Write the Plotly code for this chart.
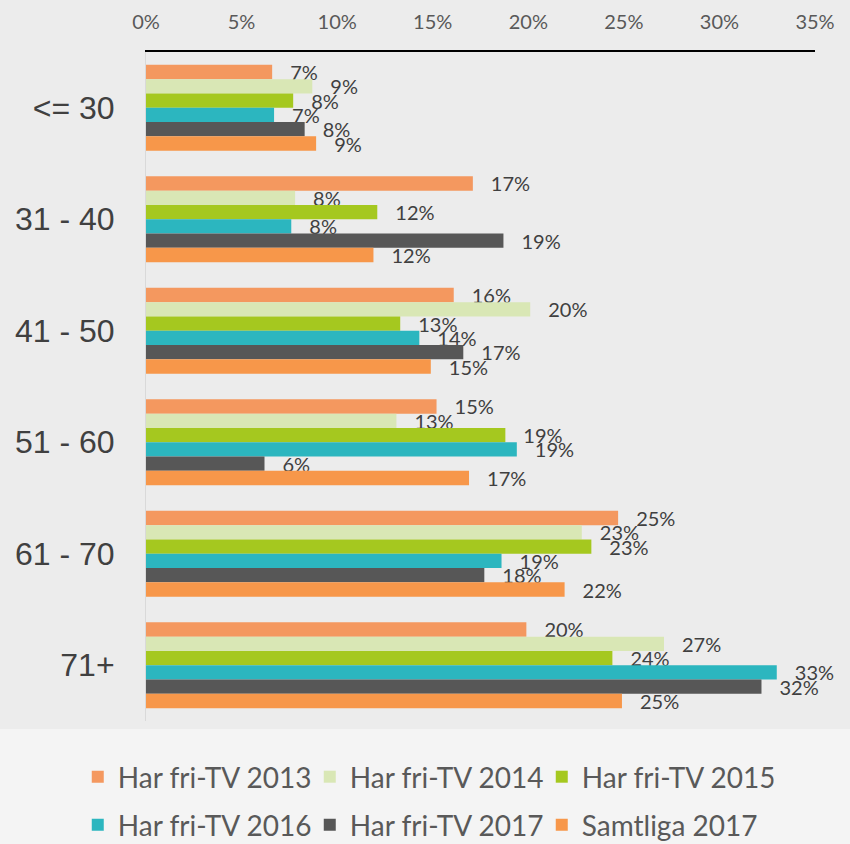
import plotly.graph_objects as go

categories = ["<= 30", "31 - 40", "41 - 50", "51 - 60", "61 - 70", "71+"]
series_names = ["Har fri-TV 2013", "Har fri-TV 2014", "Har fri-TV 2015",
                "Har fri-TV 2016", "Har fri-TV 2017", "Samtliga 2017"]
v2013 = [0.066, 0.171, 0.161, 0.152, 0.247, 0.199]
v2014 = [0.087, 0.078, 0.201, 0.131, 0.228, 0.271]
v2015 = [0.077, 0.121, 0.133, 0.188, 0.233, 0.244]
v2016 = [0.067, 0.076, 0.143, 0.194, 0.186, 0.330]
v2017 = [0.083, 0.187, 0.166, 0.062, 0.177, 0.322]
vsamt = [0.089, 0.119, 0.149, 0.169, 0.219, 0.249]
series_values = [v2013, v2014, v2015, v2016, v2017, vsamt]
colors = ["#F4985F", "#D9E7B5", "#A5C81F", "#2CB6BF", "#575757", "#F7974A"]
tick_vals = [0, 0.05, 0.10, 0.15, 0.20, 0.25, 0.30, 0.35]
tick_text = ["0%", "5%", "10%", "15%", "20%", "25%", "30%", "35%"]

FONT = "Lato"
fig = go.Figure()
for i, (name, vals, col) in enumerate(zip(series_names, series_values, colors)):
    fig.add_trace(go.Bar(
        y=categories, x=vals, name=name, orientation="h",
        marker=dict(color=col, line=dict(width=0)),
        texttemplate="\u2003%{x:.0%}", textposition="outside",
        constraintext="none", cliponaxis=False,
        textfont=dict(family=FONT, size=20, color="#404040"),
        legend="legend" if i < 3 else "legend2",
        hoverinfo="skip",
    ))

legend_common = dict(orientation="h", x=-0.102, xanchor="left", yanchor="middle",
                     entrywidth=187,
                     font=dict(family=FONT, size=28, color="#595959"),
                     bgcolor="rgba(0,0,0,0)", itemwidth=30)

fig.update_layout(
    width=850, height=844,
    margin=dict(l=146, r=35, t=52, b=123, autoexpand=False),
    paper_bgcolor="#ececec", plot_bgcolor="rgba(0,0,0,0)",
    barmode="group", bargap=0.23, bargroupgap=0,
    xaxis=dict(side="top", range=[0, 0.35], tickvals=tick_vals, ticktext=tick_text,
               showgrid=False, zeroline=False, showline=True, linecolor="#000000",
               linewidth=2, ticks="", ticklabelstandoff=13,
               tickfont=dict(family=FONT, size=20, color="#595959")),
    yaxis=dict(autorange="reversed", showgrid=False, zeroline=False, showline=True,
               linecolor="#d9d9d9", linewidth=1, ticks="", ticklabelstandoff=24,
               tickfont=dict(family="Liberation Sans", size=32, color="#404040")),
    legend=dict(legend_common, y=-(777 - 721) / 669),
    legend2=dict(legend_common, y=-(825 - 721) / 669),
    shapes=[dict(type="rect", xref="paper", yref="paper", x0=-0.25, x1=1.06,
                 y0=-0.2, y1=-0.012, fillcolor="#f4f4f4", line=dict(width=0),
                 layer="below")],
)

fig.write_html("out.html", config={"displayModeBar": False},
               post_script="document.body.style.margin='0';document.body.style.overflow='hidden';")
